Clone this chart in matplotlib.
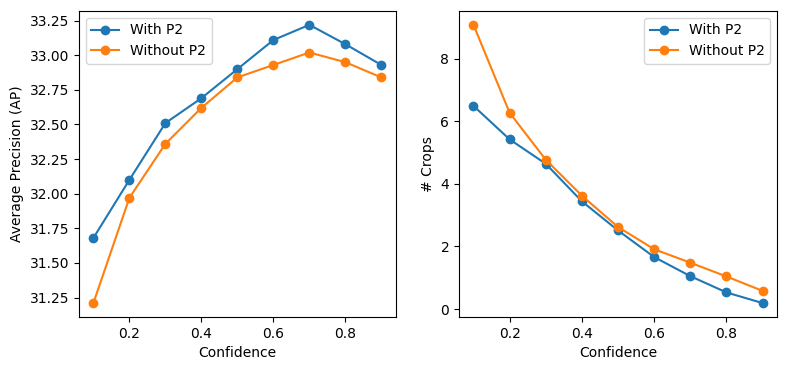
import matplotlib
matplotlib.use("Agg")
import matplotlib.pyplot as plt

confidence = [0.1, 0.2, 0.3, 0.4, 0.5, 0.6, 0.7, 0.8, 0.9]

ap_with_p2 = [31.68, 32.10, 32.51, 32.69, 32.90, 33.11, 33.22, 33.08, 32.93]
ap_without_p2 = [31.21, 31.97, 32.36, 32.62, 32.84, 32.93, 33.02, 32.95, 32.84]

crops_with_p2 = [6.49, 5.42, 4.64, 3.44, 2.51, 1.66, 1.05, 0.53, 0.19]
crops_without_p2 = [9.08, 6.27, 4.77, 3.62, 2.62, 1.91, 1.48, 1.04, 0.58]

fig = plt.figure(figsize=(7.86, 3.71), dpi=100)
ax1 = fig.add_axes([0.1005, 0.1456, 0.403, 0.825])
ax2 = fig.add_axes([0.584, 0.1456, 0.4046, 0.825])

ax1.plot(confidence, ap_with_p2, marker="o", label="With P2")
ax1.plot(confidence, ap_without_p2, marker="o", label="Without P2")
ax1.set_xlabel("Confidence")
ax1.set_ylabel("Average Precision (AP)")
ax1.legend(loc="upper left")

ax2.plot(confidence, crops_with_p2, marker="o", label="With P2")
ax2.plot(confidence, crops_without_p2, marker="o", label="Without P2")
ax2.set_xlabel("Confidence")
ax2.set_ylabel("# Crops")
ax2.legend(loc="upper right")

fig.savefig("out.png", dpi=100)
